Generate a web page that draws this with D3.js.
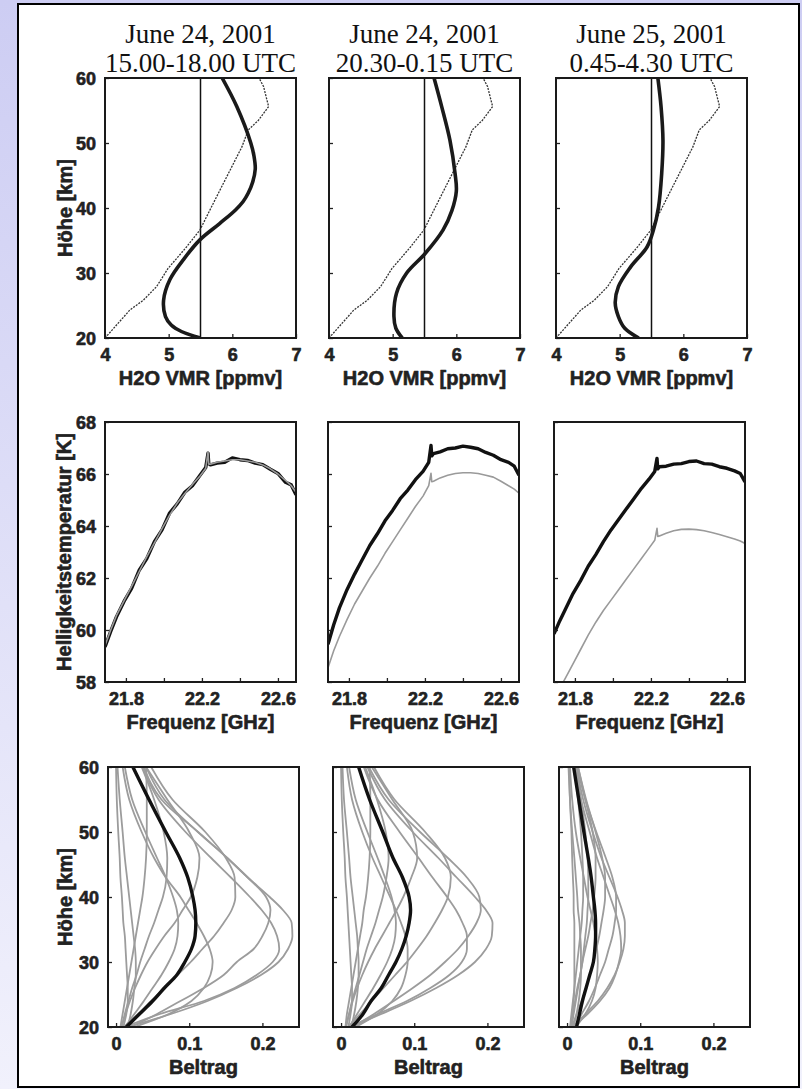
<!DOCTYPE html>
<html><head><meta charset="utf-8">
<script src="https://cdn.jsdelivr.net/npm/d3@7"></script>
<style>body{margin:0;background:#fff} svg{display:block}</style>
</head><body><svg id="c" width="802" height="1089"></svg>
<script>
// ---------- DATA ----------
const titlesLine1 = ["June 24, 2001", "June 24, 2001", "June 25, 2001"];
const titlesLine2 = ["15.00-18.00 UTC", "20.30-0.15 UTC", "0.45-4.30 UTC"];

// Row 1: H2O VMR profiles
const vmrTicks = [4, 5, 6, 7];
const kmTicks = [20, 30, 40, 50, 60];
const refVmr = 5.5;
const aprioriKm  = [20, 22.2, 24.3, 25.8, 27.9, 30.7, 34.0, 36.6, 40.7, 43.8, 46.5, 49.4, 52.0, 53.5, 55.6, 58.7, 60];
const aprioriVmr = [4.0, 4.2, 4.39, 4.60, 4.81, 4.99, 5.28, 5.49, 5.70, 5.86, 6.0, 6.15, 6.25, 6.41, 6.57, 6.49, 6.42];
const ret1Km  = [20, 21, 22, 23.3, 25.8, 29, 32.3, 35.1, 37.6, 39.7, 41, 42.3, 44, 46, 48, 50, 55.6, 60];
const ret1Vmr = [5.5, 5.2, 5.04, 4.95, 4.92, 5.02, 5.25, 5.49, 5.80, 6.05, 6.17, 6.25, 6.32, 6.36, 6.34, 6.29, 6.07, 5.84];
const ret2Km  = [20, 21.5, 23.3, 26.9, 30, 33, 36.6, 39.6, 42.6, 45.3, 50.4, 55.6, 60];
const ret2Vmr = [5.15, 5.05, 5.02, 5.06, 5.22, 5.51, 5.79, 5.93, 6.0, 5.98, 5.90, 5.77, 5.65];
const ret3Km  = [20, 21.5, 23.3, 25.4, 27.9, 30.9, 34, 36.6, 40.1, 45.3, 50.4, 55.6, 60];
const ret3Vmr = [5.3, 5.08, 4.98, 4.93, 4.98, 5.17, 5.43, 5.53, 5.61, 5.66, 5.68, 5.65, 5.60];

// Row 2: brightness temperature spectra
const freqTicks = [21.8, 22.0, 22.2, 22.4, 22.6];
const freqLabels = ["21.8", "", "22.2", "", "22.6"];
const tbTicks = [58, 60, 62, 64, 66, 68];
const specFreq = [21.69, 21.72, 21.75, 21.79, 21.83, 21.87, 21.91, 21.95, 21.99, 22.03, 22.07, 22.11, 22.15, 22.19, 22.22, 22.232, 22.236, 22.245, 22.28, 22.32, 22.36, 22.40, 22.44, 22.48, 22.52, 22.56, 22.60, 22.64, 22.67, 22.695];
const meas1 = [59.35, 59.95, 60.5, 61.1, 61.6, 62.3, 62.75, 63.4, 63.85, 64.5, 64.85, 65.3, 65.55, 65.95, 66.25, 66.8, 66.4, 66.35, 66.42, 66.45, 66.62, 66.55, 66.52, 66.42, 66.36, 66.18, 66.02, 65.68, 65.58, 65.2];
const sim1  = [59.4, 60.0, 60.55, 61.12, 61.68, 62.25, 62.82, 63.35, 63.9, 64.42, 64.88, 65.25, 65.6, 65.92, 66.22, 66.85, 66.38, 66.38, 66.45, 66.5, 66.55, 66.55, 66.5, 66.45, 66.35, 66.2, 66.0, 65.75, 65.55, 65.3];
const meas2 = [59.45, 60.2, 60.85, 61.55, 62.15, 62.7, 63.25, 63.7, 64.2, 64.6, 65.05, 65.38, 65.78, 66.1, 66.45, 67.1, 66.7, 66.78, 66.85, 66.97, 67.0, 67.07, 67.03, 66.97, 66.83, 66.72, 66.55, 66.45, 66.3, 65.95];
const sim2  = [58.55, 59.2, 59.75, 60.4, 61.0, 61.5, 62.0, 62.45, 62.95, 63.4, 63.85, 64.3, 64.75, 65.15, 65.55, 66.03, 65.7, 65.72, 65.85, 65.95, 66.02, 66.05, 66.05, 66.02, 65.95, 65.88, 65.72, 65.55, 65.42, 65.26];
const meas3 = [59.85, 60.35, 60.8, 61.4, 61.9, 62.45, 62.9, 63.4, 63.85, 64.25, 64.65, 65.05, 65.45, 65.8, 66.1, 66.6, 66.2, 66.28, 66.3, 66.38, 66.4, 66.48, 66.5, 66.4, 66.38, 66.28, 66.22, 66.12, 66.02, 65.7];
const sim3  = [57.3, 57.75, 58.15, 58.7, 59.25, 59.8, 60.3, 60.75, 61.15, 61.55, 61.95, 62.35, 62.75, 63.15, 63.45, 63.91, 63.6, 63.62, 63.72, 63.82, 63.87, 63.88, 63.86, 63.82, 63.75, 63.67, 63.59, 63.5, 63.42, 63.33];

// Row 3: averaging kernels (Beitrag) at these altitudes
const contribTicks = [0, 0.1, 0.2];
const contribLabels = ["0", "0.1", "0.2"];
const kernAlt = [20, 22, 24, 26, 28, 30, 32, 34, 36, 38, 40, 43, 46, 50, 55, 60];
const kern1 = [
  [.016,.075,.125,.165,.198,.222,.235,.241,.240,.228,.210,.180,.152,.112,.062,.038],
  [.012,.060,.120,.162,.192,.214,.223,.220,.212,.199,.183,.157,.130,.095,.058,.036],
  [.020,.056,.088,.120,.147,.165,.188,.200,.208,.211,.205,.180,.152,.112,.066,.041],
  [.011,.030,.048,.066,.084,.102,.118,.134,.147,.158,.163,.162,.150,.122,.077,.048],
  [.025,.072,.103,.120,.129,.132,.128,.120,.110,.099,.088,.068,.052,.035,.018,.009],
  [.007,.013,.019,.026,.034,.043,.054,.066,.080,.091,.102,.111,.114,.100,.070,.041],
  [.008,.012,.017,.022,.028,.033,.039,.045,.052,.058,.064,.069,.070,.065,.052,.035],
  [.006,.009,.012,.015,.018,.021,.024,.027,.030,.033,.036,.039,.041,.042,.042,.041],
  [.016,.020,.023,.025,.027,.027,.026,.024,.022,.020,.018,.015,.012,.009,.005,.002],
  [.010,.014,.016,.016,.015,.014,.013,.012,.010,.009,.008,.006,.005,.003,.001,.000],
  [.012,.025,.038,.050,.062,.072,.080,.084,.085,.083,.078,.068,.056,.040,.022,.012]
];
const kernSum1 = [.014,.032,.050,.066,.083,.094,.103,.108,.109,.108,.105,.098,.087,.068,.045,.023];
const kern2 = [
  [.013,.055,.095,.130,.160,.183,.198,.206,.207,.198,.183,.158,.133,.098,.060,.036],
  [.012,.050,.090,.122,.148,.165,.172,.172,.166,.157,.145,.125,.106,.080,.050,.031],
  [.016,.045,.072,.098,.122,.142,.160,.174,.185,.191,.189,.172,.146,.108,.065,.038],
  [.010,.026,.042,.058,.074,.090,.104,.117,.128,.138,.146,.150,.142,.115,.073,.045],
  [.020,.050,.070,.082,.088,.091,.091,.088,.082,.075,.067,.055,.043,.029,.015,.008],
  [.006,.011,.016,.022,.029,.037,.046,.056,.066,.076,.085,.096,.104,.098,.070,.042],
  [.007,.011,.015,.020,.025,.030,.035,.041,.047,.052,.057,.062,.065,.061,.049,.033],
  [.006,.008,.011,.014,.017,.020,.023,.026,.029,.031,.034,.037,.039,.040,.040,.039],
  [.014,.018,.021,.023,.024,.024,.023,.022,.020,.018,.016,.013,.011,.008,.004,.002],
  [.010,.013,.015,.015,.014,.013,.012,.011,.010,.009,.008,.006,.005,.003,.001,.000],
  [.011,.022,.033,.044,.054,.063,.070,.074,.075,.073,.069,.060,.050,.036,.020,.011]
];
const kernSum2 = [.015,.030,.041,.055,.065,.075,.083,.089,.093,.095,.093,.084,.071,.057,.039,.024];
const kern3 = [
  [.008,.025,.042,.055,.065,.072,.077,.079,.079,.075,.069,.058,.047,.035,.022,.013],
  [.008,.028,.045,.058,.066,.071,.074,.073,.070,.065,.059,.050,.041,.031,.019,.011],
  [.010,.020,.030,.038,.045,.052,.057,.062,.065,.067,.067,.062,.053,.040,.025,.014],
  [.007,.013,.020,.026,.031,.036,.040,.044,.047,.050,.052,.052,.048,.039,.026,.015],
  [.012,.025,.034,.039,.041,.042,.041,.039,.036,.032,.028,.023,.018,.012,.007,.004],
  [.005,.008,.011,.014,.018,.021,.025,.029,.032,.035,.037,.039,.039,.035,.025,.015],
  [.006,.009,.012,.015,.018,.021,.023,.025,.027,.028,.029,.029,.028,.025,.019,.012],
  [.009,.013,.016,.018,.019,.019,.019,.018,.017,.015,.014,.012,.010,.007,.004,.002],
  [.006,.008,.009,.010,.010,.010,.010,.010,.010,.009,.009,.008,.007,.006,.004,.003],
  [.004,.006,.008,.010,.012,.014,.016,.018,.020,.021,.022,.022,.021,.019,.015,.010]
];
const kernSum3 = [.013,.017,.021,.026,.031,.036,.038,.039,.039,.038,.036,.033,.029,.023,.016,.009];

// ---------- LAYOUT ----------
const W = 802, H = 1089;
const svg = d3.select('#c');
const defs = svg.append('defs');
const grad = defs.append('linearGradient').attr('id','bg').attr('x1',0).attr('y1',0).attr('x2',0).attr('y2',1);
grad.append('stop').attr('offset','0%').attr('stop-color','#cdcdf3');
grad.append('stop').attr('offset','100%').attr('stop-color','#f1f1fc');
svg.append('rect').attr('width',W).attr('height',H).attr('fill','url(#bg)');
svg.append('rect').attr('x',18).attr('y',4).attr('width',781).attr('height',1083)
  .attr('fill','#fff').attr('stroke','#000').attr('stroke-width',2);

const SANS = "'Liberation Sans', Arial, Helvetica, sans-serif";
const SERIF = "'Liberation Serif', 'Times New Roman', Times, serif";
let clipId = 0;

function heavy(sel, size) {
  sel.attr('font-family', SANS).attr('font-weight', 'bold').attr('font-size', size)
    .attr('fill', '#222').attr('stroke', '#222').attr('stroke-width', 0.6)
    .attr('stroke-linejoin', 'round');
}

function panel(o) {
  const g = svg.append('g');
  const xs = d3.scaleLinear().domain(o.xDomain).range([o.x, o.x + o.w]);
  const ys = d3.scaleLinear().domain(o.yDomain).range([o.y + o.h, o.y]);
  const id = 'clip' + (clipId++);
  defs.append('clipPath').attr('id', id).append('rect')
    .attr('x', o.x).attr('y', o.y).attr('width', o.w).attr('height', o.h);
  const plot = g.append('g').attr('clip-path', `url(#${id})`);
  const xAxis = d3.axisBottom(xs).tickValues(o.xTicks).tickSizeInner(-4).tickSizeOuter(0)
    .tickFormat((d, i) => o.xLabels ? o.xLabels[i] : d3.format('d')(d));
  const ax = g.append('g').attr('transform', `translate(0,${o.y + o.h})`).call(xAxis);
  const yAxis = d3.axisLeft(ys).tickValues(o.yTicks).tickSizeInner(-4).tickSizeOuter(0)
    .tickFormat(o.showY ? d3.format('d') : () => '').tickPadding(9);
  const ay = g.append('g').attr('transform', `translate(${o.x},0)`).call(yAxis);
  [ax, ay].forEach(a => {
    a.select('.domain').remove();
    a.selectAll('line').attr('stroke', '#222').attr('stroke-width', 1.3);
    heavy(a.selectAll('text'), 18);
  });
  ax.selectAll('text').attr('dy', null).attr('y', 23);
  ay.selectAll('text').attr('dy', '0.35em');
  heavy(g.append('text').attr('x', o.x + o.w / 2).attr('y', o.y + o.h + 47)
    .attr('text-anchor', 'middle').text(o.xTitle), 20);
  if (o.yTitle) {
    heavy(g.append('text').attr('transform', `translate(${o.yTitleX},${o.y + o.h / 2}) rotate(-90)`)
      .attr('text-anchor', 'middle').text(o.yTitle), 20);
  }
  const box = () => g.append('rect').attr('x', o.x).attr('y', o.y).attr('width', o.w).attr('height', o.h)
    .attr('fill', 'none').attr('stroke', '#1a1a1a').attr('stroke-width', 2);
  return { xs, ys, plot, box, g };
}

// ---------- ROW 1 ----------
const row1X = [105, 329, 556];
const rets = [[ret1Km, ret1Vmr], [ret2Km, ret2Vmr], [ret3Km, ret3Vmr]];
row1X.forEach((x0, i) => {
  const p = panel({ x: x0, y: 78, w: 191, h: 260, xDomain: [4, 7], yDomain: [20, 60],
    xTicks: vmrTicks, yTicks: kmTicks, showY: i === 0, xTitle: 'H2O VMR [ppmv]',
    yTitle: i === 0 ? 'Höhe [km]' : null, yTitleX: 72 });
  const cx = x0 + 95.5;
  svg.append('text').attr('x', cx).attr('y', 43).attr('text-anchor', 'middle')
    .attr('font-family', SERIF).attr('font-size', 27).attr('fill', '#111').text(titlesLine1[i]);
  svg.append('text').attr('x', cx).attr('y', 72).attr('text-anchor', 'middle')
    .attr('font-family', SERIF).attr('font-size', 27).attr('fill', '#111').text(titlesLine2[i]);
  p.plot.append('line').attr('x1', p.xs(refVmr)).attr('x2', p.xs(refVmr))
    .attr('y1', p.ys(20)).attr('y2', p.ys(60)).attr('stroke', '#111').attr('stroke-width', 1.5);
  const apr = aprioriKm.map((k, j) => [aprioriVmr[j], k]);
  p.plot.append('path').datum(apr)
    .attr('d', d3.line().x(d => p.xs(d[0])).y(d => p.ys(d[1])))
    .attr('fill', 'none').attr('stroke', '#333').attr('stroke-width', 1.3).attr('stroke-dasharray', '2,1.2');
  const r = rets[i][0].map((k, j) => [rets[i][1][j], k]);
  p.plot.append('path').datum(r)
    .attr('d', d3.line().x(d => p.xs(d[0])).y(d => p.ys(d[1])).curve(d3.curveCatmullRom.alpha(0.5)))
    .attr('fill', 'none').attr('stroke', '#1a1a1a').attr('stroke-width', 3.6);
  p.box();
});

// ---------- ROW 2 ----------
const row2X = [105, 328, 554];
const specs = [[meas1, sim1], [meas2, sim2], [meas3, sim3]];
row2X.forEach((x0, i) => {
  const p = panel({ x: x0, y: 422, w: 191, h: 260, xDomain: [21.69, 22.695], yDomain: [58, 68],
    xTicks: freqTicks, xLabels: freqLabels, yTicks: tbTicks, showY: i === 0,
    xTitle: 'Frequenz [GHz]', yTitle: i === 0 ? 'Helligkeitstemperatur [K]' : null, yTitleX: 71 });
  const line = d3.line().x(d => p.xs(d[0])).y(d => p.ys(d[1]));
  const m = specFreq.map((f, j) => [f, specs[i][0][j]]);
  const s = specFreq.map((f, j) => [f, specs[i][1][j]]);
  p.plot.append('path').datum(m).attr('d', line).attr('fill', 'none')
    .attr('stroke', '#111').attr('stroke-width', 3.4).attr('stroke-linejoin', 'round');
  p.plot.append('path').datum(s).attr('d', line).attr('fill', 'none')
    .attr('stroke', '#9a9a9a').attr('stroke-width', 1.6).attr('stroke-linejoin', 'round');
  p.box();
});

// ---------- ROW 3 ----------
const row3X = [108, 333, 559];
const kerns = [kern1, kern2, kern3];
const sums = [kernSum1, kernSum2, kernSum3];
row3X.forEach((x0, i) => {
  const p = panel({ x: x0, y: 767, w: 191, h: 260, xDomain: [-0.011, 0.25], yDomain: [20, 60],
    xTicks: contribTicks, xLabels: contribLabels, yTicks: kmTicks, showY: i === 0,
    xTitle: 'Beltrag', yTitle: i === 0 ? 'Höhe [km]' : null, yTitleX: 72 });
  const line = d3.line().x(d => p.xs(d[0])).y(d => p.ys(d[1])).curve(d3.curveMonotoneY);
  kerns[i].forEach(k => {
    p.plot.append('path').datum(kernAlt.map((a, j) => [k[j], a])).attr('d', line)
      .attr('fill', 'none').attr('stroke', '#9c9c9c').attr('stroke-width', 1.8);
  });
  p.plot.append('path').datum(kernAlt.map((a, j) => [sums[i][j], a])).attr('d', line)
    .attr('fill', 'none').attr('stroke', '#111').attr('stroke-width', 3.4);
  p.box();
});
</script>
</body></html>
